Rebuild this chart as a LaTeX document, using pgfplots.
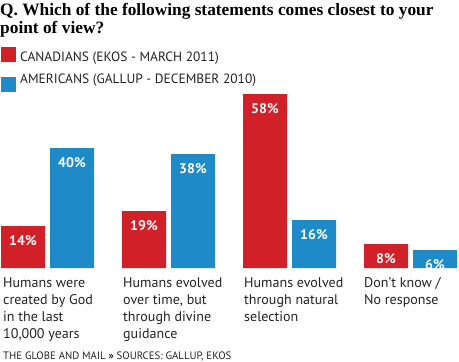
\documentclass[border=0pt]{standalone}
\usepackage{pgfplots}
\pgfplotsset{compat=1.18}
\usepackage{fontspec}
\setmainfont{PT Sans}
\newfontfamily\titlefont{Liberation Serif}
\definecolor{cred}{RGB}{209,32,39}
\definecolor{cblue}{RGB}{30,139,200}
\definecolor{ctext}{RGB}{35,35,35}
\begin{document}
\begin{tikzpicture}[x=1bp,y=1bp]
\useasboundingbox (0,-93) rectangle (459,268);
\begin{axis}[at={(0,0)},anchor=south west, scale only axis,
  width=459bp, height=174bp, xmin=0, xmax=459, ymin=0, ymax=58,
  hide axis, clip=false, ybar, bar width=44, bar shift=0pt,
  /pgf/number format/assume math mode=true,
  nodes near coords={\pgfmathprintnumber{\pgfplotspointmeta}\%},
  nodes near coords align={below},
  every node near coord/.append style={font=\bfseries\fontsize{14}{14}\selectfont, text=white, inner sep=0pt, yshift=-9bp}]
\addplot[fill=cred,draw=none] coordinates {(23,14) (144,19) (265,58) (386,8)};
\addplot[fill=cblue,draw=none] coordinates {(72,40) (193,38) (314,16) (435,6)};
\end{axis}
% title
\node[anchor=base west, inner sep=0pt, font=\titlefont\bfseries\fontsize{17.4}{20}\selectfont] at (0,253) {Q. Which of the following statements comes closest to your};
\node[anchor=base west, inner sep=0pt, font=\titlefont\bfseries\fontsize{17.4}{20}\selectfont] at (0,235) {point of view?};
% legend
\fill[cred] (1,206) rectangle (16,221);
\node[anchor=base west, inner sep=0pt, text=ctext, font=\fontsize{13.5}{16}\selectfont] at (20,207) {CANADIANS (EKOS - MARCH 2011)};
\fill[cblue] (1,176) rectangle (16,191);
\node[anchor=base west, inner sep=0pt, text=ctext, font=\fontsize{13.5}{16}\selectfont] at (20,184.5) {AMERICANS (GALLUP - DECEMBER 2010)};
% category labels
\foreach \x/\t in {3/{Humans were\\created by God\\in the last\\10,000 years}, 123/{Humans evolved\\over time, but\\through divine\\guidance}, 244/{Humans evolved\\through natural\\selection}, 364/{Don’t know /\\No response}}{
  \node[anchor=north west, inner sep=0pt, align=left, text=ctext, font=\fontsize{14.1}{17}\selectfont] at (\x,-9.5) {\t};
}
% source
\node[anchor=base west, inner sep=0pt, text=ctext, font=\fontsize{10.8}{12}\selectfont] at (3,-91) {THE GLOBE AND MAIL \textbf{»} SOURCES: GALLUP, EKOS};
\end{tikzpicture}
\end{document}
